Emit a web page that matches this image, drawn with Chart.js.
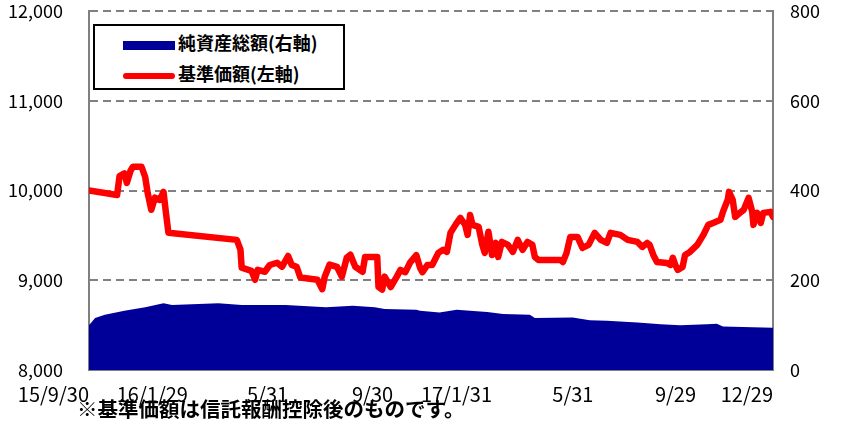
<!DOCTYPE html>
<html>
<head>
<meta charset="utf-8">
<script src="https://cdn.jsdelivr.net/npm/chart.js@4"></script>
<style>
    body { margin: 0; background: #fff; }
    #wrap { position: relative; width: 847px; height: 434px; }
    #legend {
        position: absolute; left: 93px; top: 24px; width: 248px; height: 62px;
        border: 2px solid #000; background: #fff;
        font-family: "Noto Sans CJK JP"; font-weight: bold; font-size: 18px;
    }
    .row { position: absolute; left: 28px; height: 22px; line-height: 22px; }
    .sw { display: inline-block; width: 52px; vertical-align: middle; margin-right: 3px; }
    #note {
        position: absolute; left: 77px; top: 393px;
        font-family: "Noto Sans CJK JP"; font-weight: bold; font-size: 20.5px;
    }
</style>
</head>
<body>
<div id="wrap">
    <canvas id="myChart" width="847" height="434"></canvas>
    <div id="legend"></div>
    <div id="note">※基準価額は信託報酬控除後のものです。</div>
</div>
<script>
// x positions are trading-day counts from 15/9/30
const tickDays = [0, 81, 163, 249, 330, 413, 497, 560];
const tickLabels = ['15/9/30', '16/1/29', '5/31', '9/30', '17/1/31', '5/31', '9/29', '12/29'];

// 基準価額 (left axis)
const navDays = [0, 23, 25, 29, 31, 34, 36, 43, 46, 48, 51, 54, 58, 61, 63, 65,
    121, 124, 125, 133, 136, 138, 144, 148, 154, 158, 163, 166, 170, 173, 187,
    191, 193, 197, 203, 207, 211, 214, 218, 224, 226, 236, 237, 240, 242, 247,
    252, 255, 259, 263, 268, 271, 273, 277, 281, 286, 290, 293, 296, 300, 304,
    308, 310, 312, 314, 319, 322, 324, 327, 330, 333, 335, 338, 343, 347, 351,
    355, 359, 363, 365, 368, 386, 388, 391, 394, 400, 404, 409, 414, 419, 424,
    427, 435, 441, 449, 453, 457, 459, 462, 465, 473, 476, 478, 480, 482, 486,
    488, 492, 498, 503, 507, 511, 517, 519, 523, 524, 527, 529, 533, 536, 540,
    543, 544, 547, 550, 552, 558, 560];
const navValues = [10000, 9950, 10160, 10190, 10085, 10220, 10265, 10265, 10150, 9975, 9785, 9920, 9895, 9985, 9750, 9530,
    9450, 9340, 9140, 9105, 9005, 9115, 9095, 9170, 9195, 9150, 9270, 9170, 9150, 9030, 9005,
    8900, 9040, 9175, 9150, 9040, 9250, 9285, 9150, 9095, 9260, 9260, 8925, 8895, 9040, 8925,
    9040, 9115, 9090, 9200, 9280, 9140, 9090, 9170, 9170, 9305, 9340, 9316, 9530, 9617, 9695,
    9617, 9505, 9728, 9617, 9595, 9394, 9305, 9540, 9282, 9416, 9260, 9427, 9394, 9316, 9450,
    9338, 9427, 9394, 9260, 9226, 9226, 9204, 9305, 9483, 9483, 9360, 9394, 9528, 9450, 9416,
    9528, 9505, 9450, 9427, 9372, 9416, 9394, 9282, 9204, 9193, 9171, 9249, 9171, 9115, 9148,
    9282, 9316, 9394, 9505, 9617, 9639, 9673, 9762, 9900, 9985, 9896, 9706, 9751, 9784, 9918,
    9762, 9617, 9751, 9639, 9751, 9762, 9706];

// 純資産総額 (right axis)
const assetDays = [0, 5, 13, 29, 46, 61, 68, 106, 125, 161, 194, 216, 234, 242, 268,
    271, 287, 301, 312, 326, 339, 361, 365, 396, 410, 424, 449, 468, 484, 506, 514, 519, 560];
const assetValues = [100, 116, 123, 132, 140, 149, 145, 149, 145, 145, 140, 143, 140, 136, 134,
    132, 128, 134, 132, 129, 125, 123, 116, 117, 111, 110, 106, 102, 100, 102, 103, 97, 94];

const seriesNames = ['純資産総額(右軸)', '基準価額(左軸)'];
const seriesColors = ['#000099', '#ff0000'];

function buildLegend() {
    const box = document.getElementById('legend');
    box.innerHTML =
        '<div class="row" style="top:5px"><span class="sw" style="height:9px;background:' + seriesColors[0] + '"></span>' + seriesNames[0] + '</div>' +
        '<div class="row" style="top:36px"><span class="sw" style="height:6px;border-radius:3px;background:' + seriesColors[1] + '"></span>' + seriesNames[1] + '</div>';
}

// keep the plot area where the reference has it
function fixPadding(scale, width) {
    scale.width = width;
    scale.paddingTop = 11;
    scale.paddingBottom = 0;
}

function createGraph() {
    const tickFont = { family: 'Noto Sans CJK JP', size: 18 };
    const ctx = document.getElementById('myChart').getContext('2d');
    new Chart(ctx, {
        type: 'line',
        data: {
            datasets: [{
                label: seriesNames[1],
                data: navDays.map((d, i) => ({ x: d, y: navValues[i] })),
                yAxisID: 'y',
                borderColor: seriesColors[1],
                borderWidth: 6.5,
                borderJoinStyle: 'round',
                borderCapStyle: 'round',
                pointRadius: 0,
                fill: false,
                order: 0
            },
            {
                label: seriesNames[0],
                data: assetDays.map((d, i) => ({ x: d, y: assetValues[i] })),
                yAxisID: 'y2',
                borderWidth: 0,
                backgroundColor: seriesColors[0],
                pointRadius: 0,
                fill: 'origin',
                order: 1
            }]
        },
        options: {
            responsive: false,
            animation: false,
            devicePixelRatio: 1,
            layout: { padding: 0 },
            plugins: {
                legend: { display: false },
                tooltip: { enabled: false }
            },
            scales: {
                x: {
                    type: 'linear',
                    min: 0,
                    max: 560,
                    afterBuildTicks: scale => { scale.ticks = tickDays.map(v => ({ value: v })); },
                    afterFit: scale => { scale.height = 64; },
                    grid: { display: false, drawTicks: false },
                    border: { color: '#808080', width: 2 },
                    ticks: {
                        align: 'end',
                        autoSkip: false,
                        maxRotation: 0,
                        padding: 12,
                        color: '#000',
                        font: { family: 'Noto Sans CJK JP', size: 20 },
                        callback: (value, index) => tickLabels[index]
                    }
                },
                y: {
                    position: 'left',
                    min: 8000,
                    max: 12000,
                    afterFit: scale => fixPadding(scale, 89),
                    grid: { color: '#808080', lineWidth: 2, drawTicks: false },
                    border: { color: '#808080', width: 2, dash: [8, 5] },
                    ticks: { stepSize: 1000, padding: 26, color: '#000', font: tickFont }
                },
                y2: {
                    position: 'right',
                    min: 0,
                    max: 800,
                    afterFit: scale => fixPadding(scale, 74),
                    grid: { display: false, drawTicks: false },
                    border: { color: '#808080', width: 2 },
                    ticks: { stepSize: 200, padding: 17, color: '#000', font: tickFont }
                }
            }
        }
    });
}

buildLegend();
createGraph();
</script>
</body>
</html>
